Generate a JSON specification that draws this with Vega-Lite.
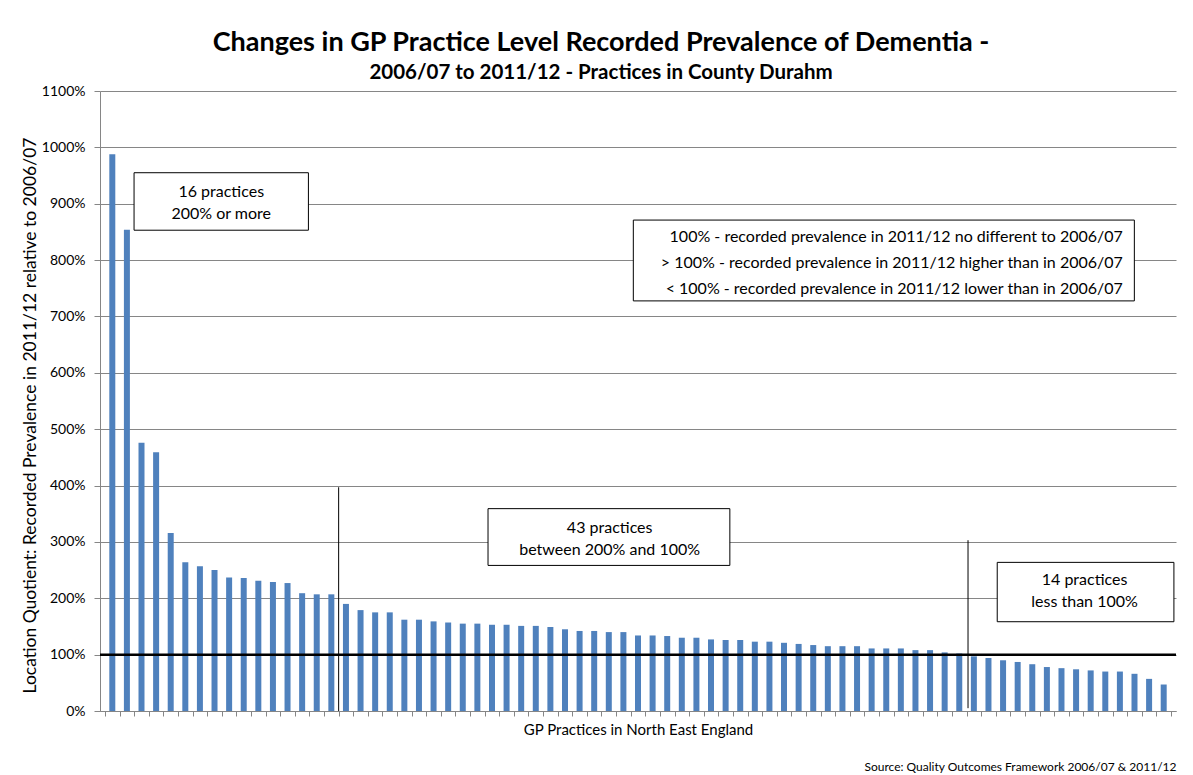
{
  "$schema": "https://vega.github.io/schema/vega-lite/v6.json",
  "autosize": "none",
  "width": 1076,
  "height": 620,
  "padding": {"left": 100, "top": 91, "right": 17, "bottom": 64},
  "background": "white",
  "config": {"view": {"stroke": null}, "font": "Lato"},
  "title": {
    "text": "Changes in GP Practice Level Recorded Prevalence of Dementia -",
    "subtitle": "2006/07 to 2011/12 - Practices in County Durahm",
    "anchor": "middle",
    "dx": -37,
    "dy": 8,
    "offset": 8,
    "font": "Lato",
    "fontSize": 27,
    "fontWeight": "bold",
    "color": "#000000",
    "subtitleFont": "Lato",
    "subtitleFontSize": 20.5,
    "subtitleFontWeight": "bold",
    "subtitleColor": "#000000",
    "subtitlePadding": 6
  },
  "datasets": {
    "practices": [
      {"practice": 1, "lq": 988}, {"practice": 2, "lq": 854}, {"practice": 3, "lq": 476}, {"practice": 4, "lq": 459},
      {"practice": 5, "lq": 316}, {"practice": 6, "lq": 264}, {"practice": 7, "lq": 257}, {"practice": 8, "lq": 250},
      {"practice": 9, "lq": 237}, {"practice": 10, "lq": 236}, {"practice": 11, "lq": 231}, {"practice": 12, "lq": 229},
      {"practice": 13, "lq": 227}, {"practice": 14, "lq": 209}, {"practice": 15, "lq": 207}, {"practice": 16, "lq": 207},
      {"practice": 17, "lq": 190}, {"practice": 18, "lq": 179}, {"practice": 19, "lq": 175}, {"practice": 20, "lq": 175},
      {"practice": 21, "lq": 162}, {"practice": 22, "lq": 162}, {"practice": 23, "lq": 159}, {"practice": 24, "lq": 157},
      {"practice": 25, "lq": 155}, {"practice": 26, "lq": 155}, {"practice": 27, "lq": 153}, {"practice": 28, "lq": 153},
      {"practice": 29, "lq": 151}, {"practice": 30, "lq": 151}, {"practice": 31, "lq": 149}, {"practice": 32, "lq": 145},
      {"practice": 33, "lq": 142}, {"practice": 34, "lq": 142}, {"practice": 35, "lq": 140}, {"practice": 36, "lq": 140},
      {"practice": 37, "lq": 134}, {"practice": 38, "lq": 134}, {"practice": 39, "lq": 133}, {"practice": 40, "lq": 130},
      {"practice": 41, "lq": 130}, {"practice": 42, "lq": 127}, {"practice": 43, "lq": 126}, {"practice": 44, "lq": 126},
      {"practice": 45, "lq": 123}, {"practice": 46, "lq": 123}, {"practice": 47, "lq": 121}, {"practice": 48, "lq": 119},
      {"practice": 49, "lq": 117}, {"practice": 50, "lq": 115}, {"practice": 51, "lq": 115}, {"practice": 52, "lq": 115},
      {"practice": 53, "lq": 111}, {"practice": 54, "lq": 111}, {"practice": 55, "lq": 111}, {"practice": 56, "lq": 108},
      {"practice": 57, "lq": 108}, {"practice": 58, "lq": 104}, {"practice": 59, "lq": 102}, {"practice": 60, "lq": 97},
      {"practice": 61, "lq": 94}, {"practice": 62, "lq": 90}, {"practice": 63, "lq": 87}, {"practice": 64, "lq": 83},
      {"practice": 65, "lq": 78}, {"practice": 66, "lq": 76}, {"practice": 67, "lq": 74}, {"practice": 68, "lq": 72},
      {"practice": 69, "lq": 70}, {"practice": 70, "lq": 70}, {"practice": 71, "lq": 66}, {"practice": 72, "lq": 57},
      {"practice": 73, "lq": 47}
    ],
    "reference": [{"lq": 100}],
    "dividers": [
      {"x": 16.5, "y": 0, "y2": 397},
      {"x": 59.6, "y": 5, "y2": 303}
    ],
    "boxes": [
      {"x": 2.49, "x2": 14.43, "y": 955, "y2": 853},
      {"x": 26.73, "x2": 43.29, "y": 359, "y2": 258.3},
      {"x": 61.6, "x2": 73.7, "y": 263.7, "y2": 158.4},
      {"x": 36.68, "x2": 70.99, "y": 871, "y2": 727.6}
    ],
    "notes": [
      {"x": 8.46, "y": 921, "label": "16 practices\n200% or more"},
      {"x": 35.06, "y": 325.3, "label": "43 practices\nbetween 200% and 100%"},
      {"x": 67.58, "y": 231.7, "label": "14 practices\nless than 100%"}
    ],
    "legendnote": [
      {"x": 70.2, "y": 841, "label": "100% - recorded prevalence in 2011/12 no different to 2006/07\n> 100% - recorded prevalence in 2011/12 higher than in 2006/07\n< 100% - recorded  prevalence in 2011/12 lower than in 2006/07"}
    ]
  },
  "resolve": {"axis": {"x": "independent"}},
  "layer": [
    {
      "data": {"name": "practices"},
      "mark": {"type": "bar", "width": 6, "color": "#4F81BD"},
      "encoding": {
        "x": {
          "field": "practice", "type": "quantitative",
          "scale": {"domain": [0.5, 73.5], "nice": false, "zero": false},
          "axis": {
            "values": [0.5,1.5,2.5,3.5,4.5,5.5,6.5,7.5,8.5,9.5,10.5,11.5,12.5,13.5,14.5,15.5,16.5,17.5,18.5,19.5,20.5,21.5,22.5,23.5,24.5,25.5,26.5,27.5,28.5,29.5,30.5,31.5,32.5,33.5,34.5,35.5,36.5,37.5,38.5,39.5,40.5,41.5,42.5,43.5,44.5,45.5,46.5,47.5,48.5,49.5,50.5,51.5,52.5,53.5,54.5,55.5,56.5,57.5,58.5,59.5,60.5,61.5,62.5,63.5,64.5,65.5,66.5,67.5,68.5,69.5,70.5,71.5,72.5,73.5],
            "labels": false, "grid": false,
            "domainColor": "#868686", "tickColor": "#868686", "tickSize": 5,
            "title": "GP Practices in North East England",
            "titleFont": "Lato", "titleFontSize": 15, "titleFontWeight": "normal", "titleColor": "#000000",
            "titlePadding": 6
          }
        },
        "y": {
          "field": "lq", "type": "quantitative",
          "scale": {"domain": [0, 1100], "nice": false},
          "axis": {
            "values": [0,100,200,300,400,500,600,700,800,900,1000,1100],
            "labelExpr": "datum.value + '%'",
            "grid": true, "gridColor": "#868686", "gridWidth": 1,
            "domainColor": "#868686", "tickColor": "#868686", "tickSize": 6,
            "labelPadding": 9, "labelFont": "Lato", "labelFontSize": 14, "labelColor": "#000000",
            "title": "Location Quotient: Recorded Prevalence in 2011/12 relative to 2006/07",
            "titleFont": "Lato", "titleFontSize": 17.5, "titleFontWeight": "normal", "titleColor": "#000000",
            "titlePadding": 2, "titleY": 324
          }
        }
      }
    },
    {
      "data": {"name": "reference"},
      "mark": {"type": "rule", "color": "#000000", "strokeWidth": 2.5},
      "encoding": {"y": {"field": "lq", "type": "quantitative"}}
    },
    {
      "data": {"name": "dividers"},
      "mark": {"type": "rule", "color": "#000000", "strokeWidth": 1},
      "encoding": {
        "x": {
          "field": "x", "type": "quantitative",
          "axis": {
            "orient": "bottom", "domain": false, "ticks": false, "labels": false, "grid": false,
            "title": "Source:  Quality Outcomes Framework 2006/07 & 2011/12",
            "titleAnchor": "end", "titleFont": "Lato", "titleFontSize": 12, "titleFontWeight": "normal",
            "titleColor": "#000000", "titlePadding": 50
          }
        },
        "y": {"field": "y", "type": "quantitative"},
        "y2": {"field": "y2"}
      }
    },
    {
      "data": {"name": "boxes"},
      "mark": {"type": "rect", "fill": "#ffffff", "stroke": "#000000", "strokeWidth": 1},
      "encoding": {
        "x": {"field": "x", "type": "quantitative", "axis": null},
        "x2": {"field": "x2"},
        "y": {"field": "y", "type": "quantitative"},
        "y2": {"field": "y2"}
      }
    },
    {
      "data": {"name": "notes"},
      "mark": {"type": "text", "font": "Lato", "fontSize": 16, "color": "#000000", "align": "center", "baseline": "middle", "lineBreak": "\n", "lineHeight": 22},
      "encoding": {
        "x": {"field": "x", "type": "quantitative", "axis": null},
        "y": {"field": "y", "type": "quantitative"},
        "text": {"field": "label"}
      }
    },
    {
      "data": {"name": "legendnote"},
      "mark": {"type": "text", "font": "Lato", "fontSize": 16, "color": "#000000", "align": "right", "baseline": "middle", "lineBreak": "\n", "lineHeight": 26},
      "encoding": {
        "x": {"field": "x", "type": "quantitative", "axis": null},
        "y": {"field": "y", "type": "quantitative"},
        "text": {"field": "label"}
      }
    }
  ]
}
